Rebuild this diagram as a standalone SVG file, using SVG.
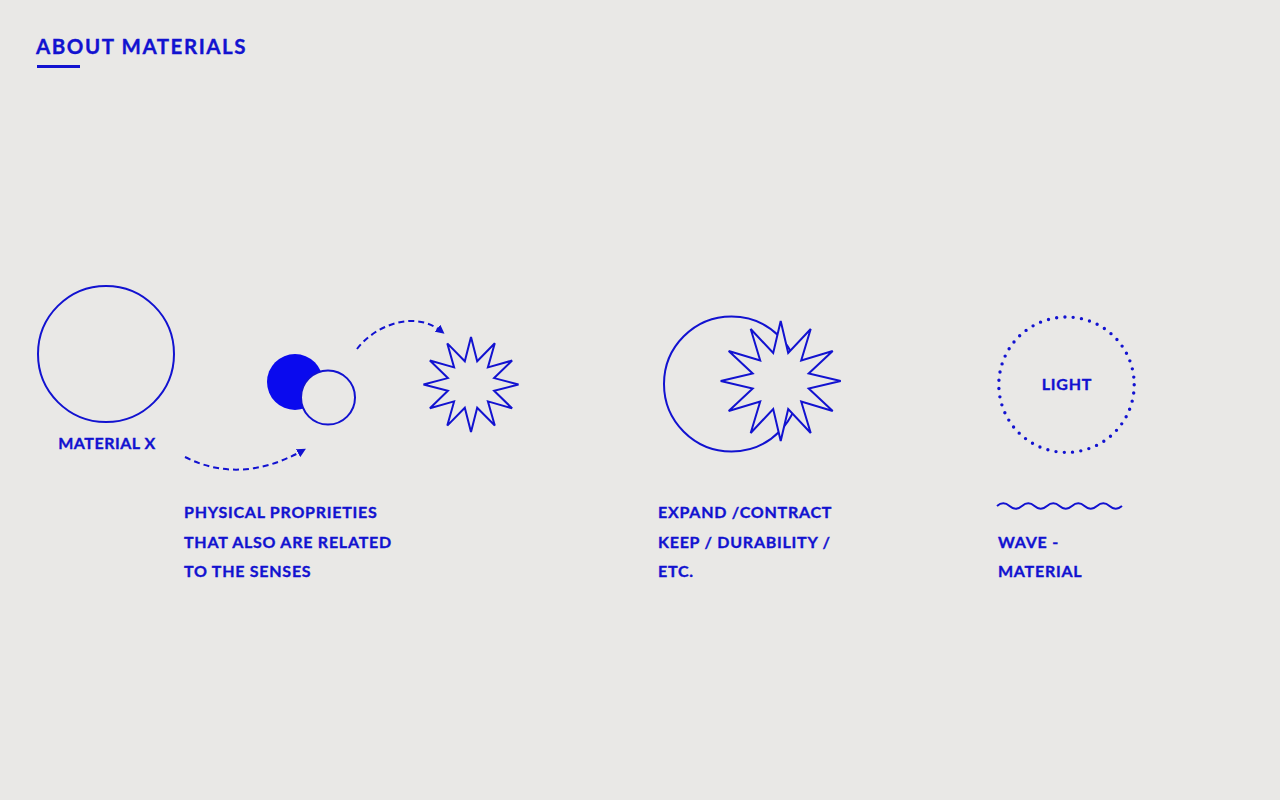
<svg xmlns="http://www.w3.org/2000/svg" width="1280" height="800" viewBox="0 0 1280 800">
<defs>
<style>
.t{font-family:Lato,"Liberation Sans",sans-serif;font-weight:700;fill:#1212d0;stroke:#1212d0;stroke-width:0.35px;font-size:16px;letter-spacing:0.75px;}
.ln{fill:none;stroke:#1212d0;stroke-width:2;}
.bg{fill:#e9e8e6;stroke:#1212d0;stroke-width:2;}
.dash{fill:none;stroke:#1212d0;stroke-width:2;stroke-dasharray:6 4;}
</style>
<marker id="ah" viewBox="0 0 10 10" refX="5" refY="5" markerWidth="9" markerHeight="9" markerUnits="userSpaceOnUse" orient="auto">
<path d="M0,0 L10,5 L0,10 Z" fill="#1212d0"/>
</marker>
</defs>
<rect width="1280" height="800" fill="#e9e8e6"/>
<g id="title">
<text class="t" x="36" y="54" style="font-size:20.5px;letter-spacing:1.55px">ABOUT MATERIALS</text>
<rect x="37" y="65" width="43" height="3" fill="#1212d0"/>
</g>
<g id="material-x">
<circle class="ln" cx="106" cy="354" r="68"/>
<text class="t" x="107" y="449" text-anchor="middle" style="letter-spacing:0.5px">MATERIAL X</text>
</g>
<g id="circles">
<circle cx="295" cy="382" r="28" fill="#0a0aee"/>
<circle class="bg" cx="328" cy="397.5" r="27"/>
</g>
<g id="star1">
<polygon class="ln" points="471,337 477.2,361.3 494.8,343.3 487.9,367.4 512.1,360.5 494.1,378.1 518.5,384.5 494.1,390.7 512.1,408.3 487.9,401.4 494.8,425.5 477.2,407.7 471,432 464.8,407.7 447.3,425.6 454.1,401.4 429.9,408.3 447.9,390.7 423.5,384.5 447.9,378.1 429.9,360.5 454.1,367.4 447.3,343.4 464.8,361.3"/>
</g>
<g id="physical-text">
<text class="t" x="184" y="517.5">PHYSICAL PROPRIETIES</text>
<text class="t" x="184" y="547.5">THAT ALSO ARE RELATED</text>
<text class="t" x="184" y="577">TO THE SENSES</text>
</g>
<g id="expand">
<circle class="ln" cx="731.5" cy="384" r="67.5"/>
<polygon class="bg" points="780.7,321 788.2,353 810.7,329 801.2,360.5 832.7,351 808.7,373.5 840.7,381 808.7,388.5 832.7,411 801.2,401.5 810.7,433 788.2,409 780.7,441 773.2,409 750.7,433 760.2,401.5 728.7,411 752.7,388.5 720.7,381 752.7,373.5 728.7,351 760.2,360.5 750.7,329 773.2,353"/>
<text class="t" x="658" y="517.5">EXPAND /CONTRACT</text>
<text class="t" x="658" y="547.5">KEEP / DURABILITY /</text>
<text class="t" x="658" y="577">ETC.</text>
</g>
<g id="light">
<circle cx="1066.5" cy="384.7" r="67.7" fill="none" stroke="#1212d0" stroke-width="3.4" stroke-linecap="round" stroke-dasharray="0 8.34"/>
<text class="t" x="1067" y="390" text-anchor="middle">LIGHT</text>
</g>
<g id="wave">
<path class="ln" d="M997,506 q6.25,-5.5 12.5,0 t12.5,0 t12.5,0 t12.5,0 t12.5,0 t12.5,0 t12.5,0 t12.5,0 t12.5,0 t12.5,0"/>
<text class="t" x="998" y="547.5">WAVE -</text>
<text class="t" x="998" y="577">MATERIAL</text>
</g>
<g id="connectors">
<path class="dash" d="M185,457 Q240,485 302,451" marker-end="url(#ah)"/>
<path class="dash" d="M357,349 C375,325 415,310 441,331" marker-end="url(#ah)"/>
</g>
</svg>
